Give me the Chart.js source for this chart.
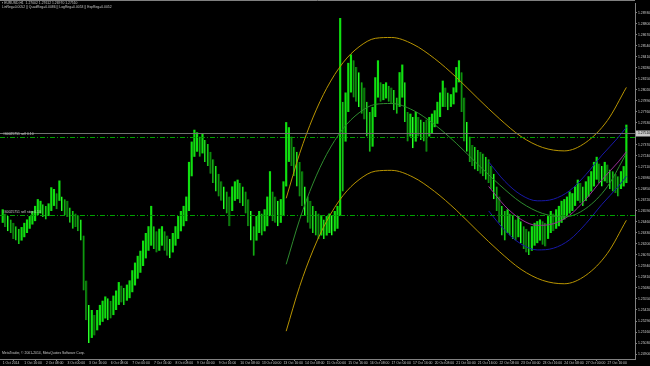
<!DOCTYPE html>
<html>
<head>
<meta charset="utf-8">
<script src="https://cdn.jsdelivr.net/npm/chart.js@4/dist/chart.umd.min.js"></script>
<style>
  html, body { margin: 0; background: #000; }
  canvas { display: block; }
</style>
</head>
<body>
<canvas id="chart" width="650" height="366"></canvas>
<script>
const barHigh = [
  1.2661,1.2656,1.2653,1.2649,1.2645,1.2641,1.2638,1.2640,1.2645,1.2649,1.2653,1.2659,1.2665,1.2673,1.2671,1.2667,
  1.2665,1.2668,1.2687,1.2685,1.2680,1.2695,1.2676,1.2673,1.2671,1.2663,1.2659,1.2656,1.2654,1.2649,1.2630,1.2577,
  1.2548,1.2542,1.2536,1.2542,1.2548,1.2553,1.2558,1.2556,1.2553,1.2559,1.2565,1.2575,1.2571,1.2568,1.2572,1.2577,
  1.2589,1.2598,1.2606,1.2612,1.2624,1.2633,1.2641,1.2665,1.2641,1.2635,1.2638,1.2641,1.2635,1.2630,1.2626,1.2633,
  1.2641,1.2653,1.2659,1.2665,1.2676,1.2717,1.2741,1.2755,1.2752,1.2747,1.2750,1.2743,1.2738,1.2729,1.2720,1.2712,
  1.2703,1.2694,1.2688,1.2682,1.2676,1.2688,1.2694,1.2696,1.2692,1.2688,1.2682,1.2673,1.2659,1.2641,1.2653,1.2659,
  1.2656,1.2661,1.2676,1.2706,1.2682,1.2676,1.2671,1.2673,1.2694,1.2764,1.2758,1.2747,1.2735,1.2729,1.2717,1.2706,
  1.2688,1.2676,1.2671,1.2665,1.2659,1.2656,1.2653,1.2649,1.2653,1.2656,1.2653,1.2659,1.2665,1.2887,1.2788,1.2799,
  1.2834,1.2844,1.2837,1.2829,1.2823,1.2811,1.2805,1.2788,1.2776,1.2782,1.2817,1.2837,1.2811,1.2809,1.2811,1.2807,
  1.2805,1.2802,1.2793,1.2823,1.2832,1.2811,1.2776,1.2774,1.2770,1.2776,1.2770,1.2767,1.2764,1.2767,1.2770,1.2774,
  1.2778,1.2788,1.2799,1.2813,1.2805,1.2799,1.2797,1.2805,1.2829,1.2837,1.2823,1.2793,1.2764,1.2747,1.2737,1.2735,
  1.2731,1.2729,1.2727,1.2723,1.2720,1.2712,1.2703,1.2688,1.2676,1.2665,1.2659,1.2661,1.2656,1.2653,1.2649,1.2653,
  1.2647,1.2641,1.2638,1.2635,1.2641,1.2645,1.2647,1.2649,1.2647,1.2645,1.2653,1.2659,1.2656,1.2661,1.2665,1.2671,
  1.2673,1.2676,1.2682,1.2680,1.2688,1.2696,1.2692,1.2688,1.2694,1.2700,1.2706,1.2717,1.2723,1.2715,1.2712,1.2717,
  1.2714,1.2708,1.2706,1.2703,1.2700,1.2706,1.2712,1.2761
];
const barLow = [
  1.2645,1.2640,1.2635,1.2633,1.2626,1.2624,1.2620,1.2624,1.2628,1.2633,1.2638,1.2643,1.2647,1.2654,1.2656,1.2652,
  1.2649,1.2653,1.2659,1.2665,1.2661,1.2671,1.2659,1.2654,1.2652,1.2645,1.2638,1.2640,1.2635,1.2624,1.2565,1.2530,
  1.2503,1.2509,1.2512,1.2518,1.2524,1.2528,1.2532,1.2530,1.2532,1.2536,1.2542,1.2548,1.2551,1.2548,1.2553,1.2556,
  1.2563,1.2571,1.2579,1.2586,1.2594,1.2603,1.2612,1.2618,1.2614,1.2610,1.2612,1.2618,1.2612,1.2606,1.2603,1.2610,
  1.2618,1.2626,1.2635,1.2641,1.2647,1.2659,1.2700,1.2723,1.2729,1.2723,1.2727,1.2717,1.2712,1.2703,1.2692,1.2682,
  1.2676,1.2671,1.2661,1.2656,1.2641,1.2659,1.2671,1.2673,1.2668,1.2665,1.2656,1.2641,1.2624,1.2606,1.2624,1.2633,
  1.2630,1.2635,1.2641,1.2653,1.2647,1.2645,1.2641,1.2645,1.2653,1.2688,1.2717,1.2712,1.2700,1.2688,1.2676,1.2665,
  1.2653,1.2645,1.2638,1.2633,1.2630,1.2626,1.2630,1.2626,1.2630,1.2633,1.2630,1.2635,1.2638,1.2653,1.2682,1.2741,
  1.2776,1.2799,1.2793,1.2788,1.2782,1.2774,1.2767,1.2747,1.2729,1.2735,1.2770,1.2793,1.2788,1.2790,1.2792,1.2788,
  1.2785,1.2778,1.2774,1.2782,1.2793,1.2764,1.2741,1.2747,1.2733,1.2741,1.2747,1.2743,1.2741,1.2729,1.2747,1.2750,
  1.2758,1.2762,1.2770,1.2782,1.2782,1.2778,1.2782,1.2785,1.2799,1.2811,1.2776,1.2741,1.2729,1.2717,1.2712,1.2708,
  1.2706,1.2703,1.2700,1.2696,1.2692,1.2685,1.2673,1.2659,1.2645,1.2630,1.2624,1.2633,1.2630,1.2626,1.2624,1.2628,
  1.2621,1.2614,1.2610,1.2607,1.2612,1.2618,1.2621,1.2624,1.2619,1.2617,1.2626,1.2633,1.2635,1.2638,1.2641,1.2645,
  1.2649,1.2653,1.2656,1.2659,1.2665,1.2671,1.2668,1.2665,1.2671,1.2676,1.2682,1.2688,1.2696,1.2692,1.2688,1.2694,
  1.2692,1.2685,1.2682,1.2680,1.2676,1.2685,1.2688,1.2692
];

// time axis: one label every 8 bars (16 hours)
const timeLabels = [
  '1 Oct 2014','1 Oct 16:00','2 Oct 08:00','3 Oct 00:00','3 Oct 16:00','6 Oct 08:00','7 Oct 00:00','7 Oct 16:00',
  '8 Oct 08:00','9 Oct 00:00','9 Oct 16:00','10 Oct 08:00','13 Oct 00:00','13 Oct 16:00','14 Oct 08:00','15 Oct 00:00',
  '15 Oct 16:00','16 Oct 08:00','17 Oct 00:00','17 Oct 16:00','20 Oct 08:00','21 Oct 00:00','21 Oct 16:00','22 Oct 08:00',
  '23 Oct 00:00','23 Oct 16:00','24 Oct 08:00','27 Oct 00:00','27 Oct 16:00'
];
const labelStep = 8;

const priceTicks = [
  1.24900,1.25030,1.25160,1.25290,1.25420,1.25550,1.25680,1.25810,1.25940,1.26070,1.26200,1.26330,1.26460,1.26590,1.26720,1.26850,
  1.26980,1.27110,1.27240,1.27370,1.27500,1.27630,1.27760,1.27890,1.28020,1.28150,1.28280,1.28410,1.28540,1.28670,1.28800,1.28930
];

// long regression channel (bar index, price)
const regIdx   = [105,110,115,120,126,132,138,144,152,160,168,176,184,192,200,208,216,224,231];
const regMid   = [1.2596,1.2649,1.2692,1.2726,1.2756,1.2775,1.2785,1.2786,1.2778,1.2761,1.2739,1.2714,1.2690,1.2669,1.2656,1.2652,1.2662,1.2688,1.2727];
const regUpper = [1.2674,1.2727,1.2770,1.2804,1.2834,1.2853,1.2863,1.2864,1.2856,1.2839,1.2817,1.2792,1.2768,1.2747,1.2734,1.2730,1.2740,1.2766,1.2805];
const regLower = [1.2517,1.2570,1.2613,1.2647,1.2677,1.2696,1.2706,1.2707,1.2699,1.2682,1.2660,1.2635,1.2611,1.2590,1.2577,1.2573,1.2583,1.2609,1.2648];

// short regression channel
const shortIdx   = [180,186,192,198,204,210,216,222,228,231];
const shortMid   = [1.2688,1.2665,1.2649,1.2642,1.2644,1.2654,1.2673,1.2696,1.2717,1.2729];
const shortUpper = [1.2717,1.2694,1.2678,1.2671,1.2673,1.2683,1.2702,1.2725,1.2746,1.2758];
const shortLower = [1.2659,1.2636,1.2620,1.2613,1.2615,1.2625,1.2644,1.2667,1.2688,1.2700];

const bidPrice = 1.27510;
const sellPrice = 1.27470;
const sellStopPrice = 1.26540;
const headerText = '\u25AA EURUSD,H1  1.27002 1.27612 1.26970 1.27510';
const infoText = 'LinReg=0.0052 || QuadReg=0.0086 || LogReg=0.0053 || ExpReg=0.0052';
const sellText = '#60025751 sell 0.10';
const sellStopText = '#60025751 sell stop 0.10';
const copyText = 'MetaTrader, \u00A9 2001-2014, MetaQuotes Software Corp.';

const FONT = '"Liberation Sans", Arial, sans-serif';
const TEXT = '#c8c8c8';

function curve(idx, vals, color) {
  return {
    type: 'line',
    data: idx.map((x, i) => ({ x: x, y: vals[i] })),
    borderColor: color,
    borderWidth: 1,
    pointRadius: 0,
    cubicInterpolationMode: 'monotone',
    order: 1
  };
}

// bar rising or falling against the previous one
function rising(i) {
  return i === 0 || barHigh[i] + barLow[i] >= barHigh[i - 1] + barLow[i - 1];
}

const overlay = {
  id: 'overlay',
  afterDatasetsDraw(chart) {
    const { ctx, chartArea: a, scales: { y } } = chart;
    ctx.save();
    ctx.lineWidth = 1;
    const hline = (price, color, dash) => {
      const py = Math.round(y.getPixelForValue(price)) + 0.5;
      ctx.strokeStyle = color;
      ctx.setLineDash(dash);
      ctx.beginPath();
      ctx.moveTo(a.left, py);
      ctx.lineTo(a.right, py);
      ctx.stroke();
      return py;
    };
    const bidY = hline(bidPrice, '#707070', []);
    const sellY = hline(sellPrice, '#00a000', [5, 2, 1, 2]);
    const stopY = hline(sellStopPrice, '#00a000', [5, 2, 1, 2]);
    ctx.setLineDash([]);

    // frame top
    ctx.strokeStyle = '#808080';
    ctx.beginPath();
    ctx.moveTo(a.left, 0.5);
    ctx.lineTo(a.right, 0.5);
    ctx.stroke();

    ctx.font = '3.4px ' + FONT;
    ctx.fillStyle = TEXT;
    ctx.textAlign = 'left';
    ctx.textBaseline = 'middle';
    ctx.fillText(headerText, 2, 3.5);
    ctx.fillText(infoText, 2, 7.5);
    ctx.fillText(sellText, 3, sellY - 3);
    ctx.fillText(sellStopText, 3, stopY - 3);
    ctx.fillText(copyText, 2, 353);

    // current bid box on the price axis
    ctx.fillStyle = '#c8c8c8';
    ctx.fillRect(a.right + 1, bidY - 3, 650 - a.right - 1, 6);
    ctx.fillStyle = '#000';
    ctx.fillText(bidPrice.toFixed(5), a.right + 3, bidY);
    ctx.restore();
  }
};

new Chart(document.getElementById('chart'), {
  type: 'bar',
  data: {
    datasets: [
      {
        type: 'bar',
        data: barHigh.map((h, i) => ({ x: i, y: [barLow[i], h] })),
        backgroundColor: c => rising(c.dataIndex) ? '#10e010' : '#008c00',
        borderColor: '#30ff30',
        borderWidth: c => rising(c.dataIndex) ? 0 : { left: 1, right: 0, top: 0, bottom: 0 },
        borderSkipped: false,
        barPercentage: 0.8,
        categoryPercentage: 1,
        order: 2
      },
      curve(regIdx, regUpper, '#b89400'),
      curve(regIdx, regMid, '#2e8b2e'),
      curve(regIdx, regLower, '#b89400'),
      curve(shortIdx, shortUpper, '#1818a8'),
      curve(shortIdx, shortMid, '#9a309a'),
      curve(shortIdx, shortLower, '#1818a8')
    ]
  },
  options: {
    responsive: false,
    animation: false,
    layout: { padding: 0 },
    plugins: { legend: { display: false }, tooltip: { enabled: false } },
    scales: {
      x: {
        type: 'linear',
        min: -1,
        max: 234.2,
        offset: false,
        afterBuildTicks: s => { s.ticks = timeLabels.map((_, k) => ({ value: k * labelStep })); },
        afterFit: s => { s.height = 7; },
        ticks: {
          autoSkip: false,
          maxRotation: 0,
          align: 'start',
          padding: 0,
          color: TEXT,
          font: { family: FONT, size: 3.4 },
          callback: v => timeLabels[Math.round(v / labelStep)]
        },
        grid: { drawOnChartArea: false, color: '#808080', tickLength: 2 },
        border: { color: '#808080' }
      },
      y: {
        position: 'right',
        min: 1.24841,
        max: 1.29047,
        afterBuildTicks: s => { s.ticks = priceTicks.map(v => ({ value: v })); },
        afterFit: s => { s.width = 15; },
        ticks: {
          padding: 1,
          color: TEXT,
          font: { family: FONT, size: 3.4 },
          callback: v => v.toFixed(5)
        },
        grid: { drawOnChartArea: false, color: '#808080', tickLength: 2 },
        border: { color: '#808080' }
      }
    }
  },
  plugins: [overlay]
});
</script>
</body>
</html>
